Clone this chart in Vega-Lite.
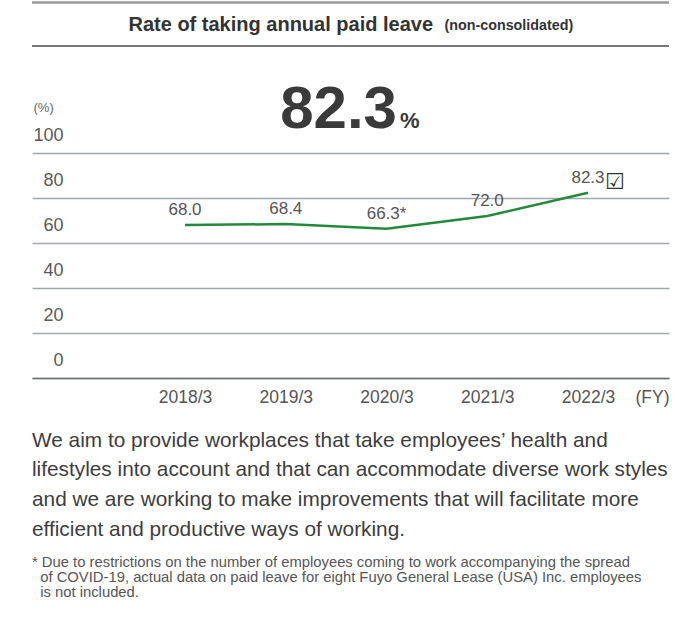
{
  "$schema": "https://vega.github.io/schema/vega-lite/v6.json",
  "width": 637,
  "height": 225,
  "autosize": {"type": "none"},
  "padding": {"left": 32, "top": 153, "right": 28, "bottom": 250},
  "background": "white",
  "config": {"font": "Liberation Sans", "view": {"stroke": null}},
  "title": {
    "text": [
      "We aim to provide workplaces that take employees’ health and",
      "lifestyles into account and that can accommodate diverse work styles",
      "and we are working to make improvements that will facilitate more",
      "efficient and productive ways of working."
    ],
    "subtitle": [
      "* Due to restrictions on the number of employees coming to work accompanying the spread",
      "\u200b\u00a0\u00a0of COVID-19, actual data on paid leave for eight Fuyo General Lease (USA) Inc. employees",
      "\u200b\u00a0\u00a0is not included."
    ],
    "orient": "bottom",
    "anchor": "start",
    "frame": "group",
    "fontSize": 20.8,
    "fontWeight": "normal",
    "color": "#3d3d3d",
    "lineHeight": 29.7,
    "subtitleFontSize": 14.8,
    "subtitleColor": "#555555",
    "subtitleLineHeight": 15,
    "subtitlePadding": 15,
    "offset": 25
  },
  "data": {
    "values": [
      {"year": 2018, "value": 68.0, "label": "68.0"},
      {"year": 2019, "value": 68.4, "label": "68.4"},
      {"year": 2020, "value": 66.3, "label": "66.3*"},
      {"year": 2021, "value": 72.0, "label": "72.0"},
      {"year": 2022, "value": 82.3, "label": "82.3"}
    ]
  },
  "resolve": {"axis": {"x": "independent", "y": "independent"}},
  "layer": [
    {
      "mark": {"type": "line", "color": "#248a3b", "strokeWidth": 2.5},
      "encoding": {
        "x": {
          "field": "year",
          "type": "quantitative",
          "scale": {"domain": [2016.481, 2022.804], "nice": false, "zero": false},
          "axis": {
            "orient": "bottom",
            "values": [2018, 2019, 2020, 2021, 2022],
            "format": "d",
            "labelExpr": "datum.label + '/3'",
            "grid": false,
            "ticks": false,
            "tickSize": 0,
            "domain": true,
            "domainColor": "#6b7073",
            "domainWidth": 1.5,
            "labelFontSize": 17.5,
            "labelColor": "#555555",
            "labelPadding": 19,
            "labelBaseline": "middle",
            "labelFlush": false,
            "labelOverlap": false,
            "title": "(FY)",
            "titleX": 637,
            "titleY": 19,
            "titleAlign": "right",
            "titleBaseline": "middle",
            "titleFontSize": 17.5,
            "titleFontWeight": "normal",
            "titleColor": "#555555"
          }
        },
        "y": {
          "field": "value",
          "type": "quantitative",
          "scale": {"domain": [0, 100], "nice": false},
          "axis": {
            "orient": "left",
            "values": [0, 20, 40, 60, 80, 100],
            "grid": true,
            "gridColor": "#a3a8ab",
            "gridWidth": 1.5,
            "domain": false,
            "ticks": false,
            "tickSize": 0,
            "labelAlign": "right",
            "labelBaseline": "middle",
            "labelPadding": -31,
            "labelOffset": -17.5,
            "labelFontSize": 18,
            "labelColor": "#5a5a5a",
            "labelOverlap": false,
            "labelFlush": false,
            "title": "(%)",
            "titleX": 1,
            "titleY": -46,
            "titleAngle": 0,
            "titleAlign": "left",
            "titleBaseline": "middle",
            "titleFontSize": 13,
            "titleFontWeight": "normal",
            "titleColor": "#666666"
          }
        }
      }
    },
    {
      "mark": {"type": "text", "fontSize": 17, "color": "#555555", "dy": -15, "baseline": "middle"},
      "encoding": {
        "x": {
          "field": "year",
          "type": "quantitative",
          "axis": {
            "orient": "top",
            "labels": false,
            "ticks": false,
            "domain": false,
            "grid": false,
            "title": "Rate of taking annual paid leave",
            "titleX": 96,
            "titleY": -129,
            "titleAlign": "left",
            "titleBaseline": "middle",
            "titleFontSize": 20,
            "titleFontWeight": "bold",
            "titleColor": "#333333"
          }
        },
        "y": {
          "field": "value",
          "type": "quantitative",
          "axis": {
            "orient": "right",
            "labels": false,
            "ticks": false,
            "domain": false,
            "grid": false,
            "title": "(non-consolidated)",
            "titleX": -225,
            "titleY": -128,
            "titleAngle": 0,
            "titleAlign": "left",
            "titleBaseline": "middle",
            "titleFontSize": 14.3,
            "titleFontWeight": "bold",
            "titleColor": "#333333"
          }
        },
        "text": {"field": "label"}
      }
    },
    {
      "transform": [{"filter": "datum.year === 2022"}],
      "mark": {"type": "text", "text": "☑", "font": "DejaVu Sans", "fontSize": 22, "align": "left", "dx": 17, "dy": -11, "baseline": "middle", "color": "#333333"},
      "encoding": {
        "x": {"field": "year", "type": "quantitative", "axis": null},
        "y": {"field": "value", "type": "quantitative", "axis": null}
      }
    },
    {
      "transform": [{"filter": "datum.year === 2022"}],
      "mark": {"type": "text", "fontSize": 60, "fontWeight": "bold", "color": "#3a3a3a", "align": "right", "baseline": "alphabetic"},
      "encoding": {
        "x": {"datum": 2020.104, "type": "quantitative", "axis": null},
        "y": {"datum": 111.1, "type": "quantitative", "axis": null},
        "text": {"field": "value", "type": "quantitative", "format": ".1f"}
      }
    },
    {
      "transform": [{"filter": "datum.year === 2022"}],
      "mark": {"type": "text", "text": "%", "fontSize": 22, "fontWeight": "bold", "color": "#3a3a3a", "align": "left", "baseline": "alphabetic"},
      "encoding": {
        "x": {"datum": 2020.134, "type": "quantitative", "axis": null},
        "y": {"datum": 111.1, "type": "quantitative", "axis": null}
      }
    },
    {
      "data": {"values": [{}]},
      "mark": {"type": "rule", "color": "#9a9a9a", "strokeWidth": 2.5},
      "encoding": {"y": {"datum": 166.9, "type": "quantitative", "axis": null}}
    },
    {
      "data": {"values": [{}]},
      "mark": {"type": "rule", "color": "#4a4a4a", "strokeWidth": 1.5},
      "encoding": {"y": {"datum": 147.6, "type": "quantitative", "axis": null}}
    }
  ]
}
